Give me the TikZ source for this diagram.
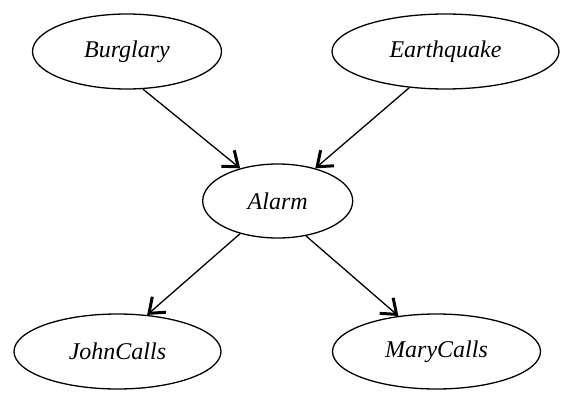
\documentclass[tikz,border=0pt]{standalone}
\usepackage{fontspec}
\setmainfont{Liberation Serif}
\usetikzlibrary{shapes.geometric,arrows.meta}
\tikzset{
  var/.style={draw, ellipse, line width=1.3pt, inner sep=0pt,
    font=\fontsize{24}{28}\selectfont\itshape},
  edge/.style={line width=1.3pt,
    -{Straight Barb[angle=75:13pt,line width=3pt,scale=1.3]}}
}
\begin{document}
\begin{tikzpicture}[x=1pt,y=1pt]
\useasboundingbox (0,0) rectangle (575,-415);
\node[var, minimum width=189pt, minimum height=75pt] (b) at (127,-51.5) {Burglary};
\node[var, minimum width=227pt, minimum height=75pt] (e) at (445.5,-51.5) {Earthquake};
\node[var, minimum width=150pt, minimum height=74pt] (a) at (277.7,-201) {Alarm};
\node[var, minimum width=207pt, minimum height=75pt] (j) at (117.5,-351.5) {JohnCalls};
\node[var, minimum width=208pt, minimum height=75pt] (m) at (436.5,-351.5) {MaryCalls};
\draw[edge] (b.-67) -- (a.139);
\draw[edge] (e.-135) -- (a.41);
\draw[edge] (a.-139) -- (j.51);
\draw[edge] (a.-51) -- (m.137);
\end{tikzpicture}
\end{document}
